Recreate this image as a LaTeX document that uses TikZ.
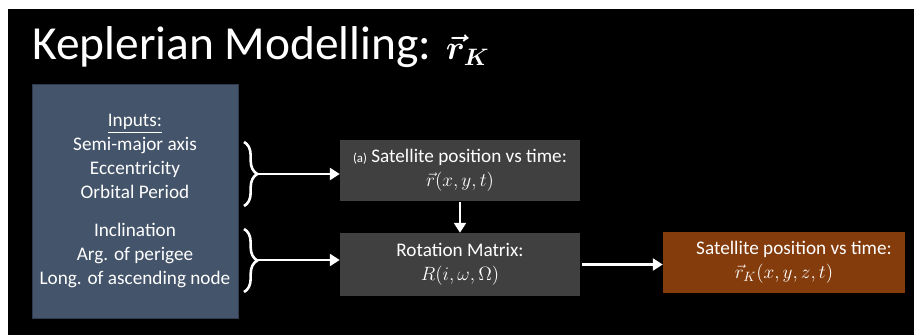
\RequirePackage{fix-cm}
\documentclass[tikz,border=0pt]{standalone}
\usepackage{amsmath}
\usepackage{fontspec}
\setmainfont{Carlito}
\usetikzlibrary{arrows.meta, positioning, decorations.pathreplacing}

\definecolor{slate}{HTML}{44546A}
\definecolor{slateedge}{HTML}{2F3B4D}
\definecolor{boxgray}{HTML}{404040}
\definecolor{rust}{HTML}{843C0C}

\begin{document}
\begin{tikzpicture}[x=0.3mm, y=0.3mm,
  box/.style={rectangle, inner sep=0pt, text=white, align=center,
              font=\fontsize{16.4}{20.5}\selectfont},
  arrow/.style={-{Triangle[length=3mm,width=3.6mm]}, line width=2.4pt, white},
  brace/.style={decorate, decoration={brace, amplitude=4mm}, line width=2.2pt, white}
]
% page and slide background
\fill[white] (0,0) rectangle (914,335);
\useasboundingbox (0,0) rectangle (914,335);
\fill[black] (8,0) rectangle (914,326);

\node[anchor=base west, text=white, inner sep=0pt,
      font=\fontsize{40.5}{48}\selectfont] (title) at (32,275)
  {Keplerian Modelling: {\fontsize{29}{34}\selectfont$\boldsymbol{\vec{r}_K}$}};

% inputs
\node[box, fill=slate, draw=slateedge, line width=0.8pt,
      minimum width=61.8mm, minimum height=70.2mm] (inputs) at (135,134)
  {\underline{Inputs:}\\ Semi-major axis\\ Eccentricity\\ Orbital Period\\[4.2mm]
   Inclination\\ Arg. of perigee\\ Long. of ascending node};

% processing steps
\node[box, fill=boxgray, minimum width=72mm, minimum height=18.3mm] (satpos) at (460,164.5)
  {{\fontsize{11}{13}\selectfont (a)} Satellite position vs time:\\ $\vec{r}(x,y,t)$};
\node[box, fill=boxgray, minimum width=72mm, minimum height=18.9mm] (rotmat) at (460,70.5)
  {Rotation Matrix:\\ $R(i,\omega,\Omega)$};
\node[box, fill=rust, minimum width=72.6mm, minimum height=18.3mm] (result) at (784,72.5)
  {\hspace*{6mm}Satellite position vs time:\\ $\vec{r}_K(x,y,z,t)$};

% braces grouping the inputs
\draw[brace] (244,193) -- (244,129);
\draw[brace] (244,106) -- (244,43);
\coordinate (tipA) at (257,161);
\coordinate (tipB) at (257,75);

\draw[arrow] (tipA) -- (tipA -| satpos.west);
\draw[arrow] (tipB) -- (tipB -| rotmat.west);
\draw[arrow] (satpos.south) ++(0,-1) -- (rotmat.north);
\draw[arrow] (rotmat.east) ++(2,0) -- (rotmat.east -| result.west);
\end{tikzpicture}
\end{document}
